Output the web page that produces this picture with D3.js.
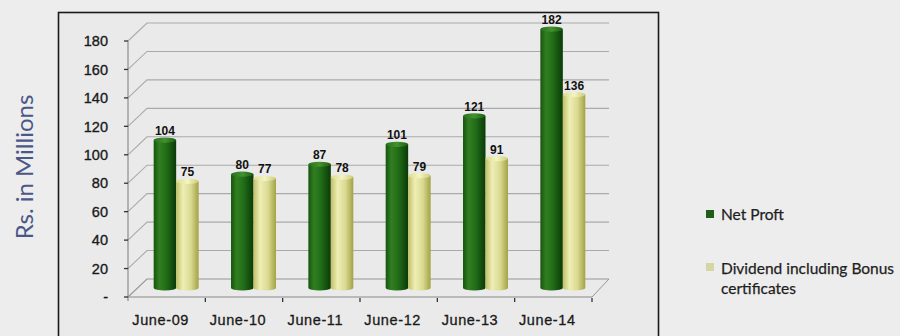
<!DOCTYPE html>
<html>
<head>
<meta charset="utf-8">
<script src="https://cdn.jsdelivr.net/npm/d3@7"></script>
<style>
  html, body { margin: 0; padding: 0; background: #ededed; }
  svg { display: block; }
</style>
</head>
<body>
<svg id="chart" width="900" height="336"></svg>
<script>
// Yearly figures, Rs. in millions
const categories = ["June-09", "June-10", "June-11", "June-12", "June-13", "June-14"];
const netProfit = [104, 80, 87, 101, 121, 182];
const dividend = [75, 77, 78, 79, 91, 136];
const seriesNames = ["Net Proft", "Dividend including Bonus certificates"];
const yTicks = [0, 20, 40, 60, 80, 100, 120, 140, 160, 180];

const svg = d3.select("#chart");

// framed plot panel
svg.append("rect").attr("x", 58.5).attr("y", 12.5).attr("width", 600).attr("height", 340)
  .attr("fill", "#eaeaea").attr("stroke", "#1a1a1a").attr("stroke-width", 1.6);

const x = d3.scaleBand().domain(categories).range([128, 592]);
const y = d3.scaleLinear().domain([0, 180]).range([297, 41]);
const xs = d3.scaleBand().domain(["np", "dv"]).range([0, x.bandwidth()]).paddingOuter(0.72);

// 3D depth offset
const DX = 19, DY = -18;
const backRight = 609;

const defs = svg.append("defs");
function cyl(id, stops) {
  const g = defs.append("linearGradient").attr("id", id).attr("x1", "0%").attr("x2", "100%");
  stops.forEach(([o, c]) => g.append("stop").attr("offset", o).attr("stop-color", c));
}
cyl("gNP", [["0%", "#17540f"], ["25%", "#327f22"], ["55%", "#216e18"], ["100%", "#0b3a08"]]);
cyl("gDV", [["0%", "#c0c066"], ["30%", "#eeeeb6"], ["65%", "#dada92"], ["100%", "#a2a246"]]);
cyl("gNPtop", [["0%", "#2a7020"], ["50%", "#43922f"], ["100%", "#1b5e14"]]);
cyl("gDVtop", [["0%", "#dcdc8c"], ["50%", "#f4f4c4"], ["100%", "#cccc76"]]);

// gridlines on side wall and back wall
const grid = svg.append("g");
yTicks.forEach(v => {
  const yy = y(v);
  grid.append("path")
    .attr("d", `M128,${yy} L${128 + DX},${yy + DY} L${backRight},${yy + DY}`)
    .attr("fill", "none").attr("stroke", v === 0 ? "#969696" : "#aaaaaa").attr("stroke-width", 1.1);
});
// floor right edge
grid.append("path").attr("d", `M592,${y(0)} L${592 + DX - 2},${y(0) + DY}`)
  .attr("fill", "none").attr("stroke", "#969696");

const txt = "Liberation Sans, Arial, sans-serif";

// value axis
const yAxisG = svg.append("g");
yAxisG.append("line").attr("x1", 128).attr("x2", 128).attr("y1", y(180)).attr("y2", y(0) + 4)
  .attr("stroke", "#7a7a7a");
yTicks.forEach(v => {
  yAxisG.append("line").attr("x1", 124).attr("x2", 128).attr("y1", y(v)).attr("y2", y(v))
    .attr("stroke", "#333").attr("stroke-width", 1.3);
  yAxisG.append("text").attr("x", 108).attr("y", y(v)).attr("dy", "0.36em")
    .attr("text-anchor", "end").attr("font-family", txt)
    .attr("font-size", 14.5).attr("fill", "#1a1a1a").attr("stroke", "#1a1a1a").attr("stroke-width", 0.35)
    .text(v === 0 ? "-" : v);
});

// category axis
const xAxisG = svg.append("g");
xAxisG.append("line").attr("x1", 128).attr("x2", 592).attr("y1", y(0)).attr("y2", y(0))
  .attr("stroke", "#8a8a8a");
categories.forEach(c => {
  const bx = x(c) + x.bandwidth();
  xAxisG.append("line").attr("x1", bx).attr("x2", bx).attr("y1", y(0) + 1).attr("y2", y(0) + 5)
    .attr("stroke", "#333").attr("stroke-width", 1.3);
  xAxisG.append("text").attr("x", x(c) + x.bandwidth() / 2 - 6).attr("y", 325)
    .attr("text-anchor", "middle").attr("font-family", txt)
    .attr("font-size", 14.5).attr("letter-spacing", 0.6).attr("fill", "#1a1a1a")
    .attr("stroke", "#1a1a1a").attr("stroke-width", 0.3).text(c);
});

// cylindrical bars, set halfway into the depth
const rows = categories.map((c, i) => ({ c, np: netProfit[i], dv: dividend[i] }));
const ox = DX / 2, oy = DY / 2;
const bars = svg.append("g");
const ry = 2.6;
rows.forEach(r => {
  [["np", r.np, "gNP", "gNPtop"], ["dv", r.dv, "gDV", "gDVtop"]].forEach(([k, v, grad, top]) => {
    const bx = x(r.c) + xs(k) + ox;
    const bw = xs.bandwidth();
    const yt = y(v) + oy, yb = y(0) + oy;
    bars.append("path")
      .attr("d", `M${bx},${yt} L${bx},${yb} A${bw / 2},${ry} 0 0 0 ${bx + bw},${yb} L${bx + bw},${yt} Z`)
      .attr("fill", `url(#${grad})`);
    bars.append("ellipse").attr("cx", bx + bw / 2).attr("cy", yt).attr("rx", bw / 2).attr("ry", ry)
      .attr("fill", `url(#${top})`);
    bars.append("text").attr("x", bx + bw / 2).attr("y", yt - 5)
      .attr("text-anchor", "middle").attr("font-family", txt)
      .attr("font-weight", "bold").attr("font-size", 12).attr("fill", "#111").text(v);
  });
});

// axis title
svg.append("text").attr("transform", "translate(33,167) rotate(-90)")
  .attr("text-anchor", "middle").attr("font-family", "Lato, sans-serif")
  .attr("font-size", 24).attr("fill", "#4a5888").text("Rs. in Millions");

// legend
const legend = svg.append("g").attr("font-family", "Lato, sans-serif").attr("font-size", 15.5)
  .attr("fill", "#1e1e1e").attr("stroke", "#1e1e1e").attr("stroke-width", 0.25);
legend.append("rect").attr("x", 706).attr("y", 210).attr("width", 8).attr("height", 8)
  .attr("fill", "#1f5e17").attr("stroke", "none");
legend.append("text").attr("x", 721).attr("y", 220).text(seriesNames[0]);
legend.append("rect").attr("x", 706).attr("y", 263).attr("width", 8).attr("height", 8)
  .attr("fill", "#d6d6a4").attr("stroke", "none");
legend.append("text").attr("x", 721).attr("y", 274).text("Dividend including Bonus");
legend.append("text").attr("x", 721).attr("y", 294).text("certificates");
</script>
</body>
</html>
